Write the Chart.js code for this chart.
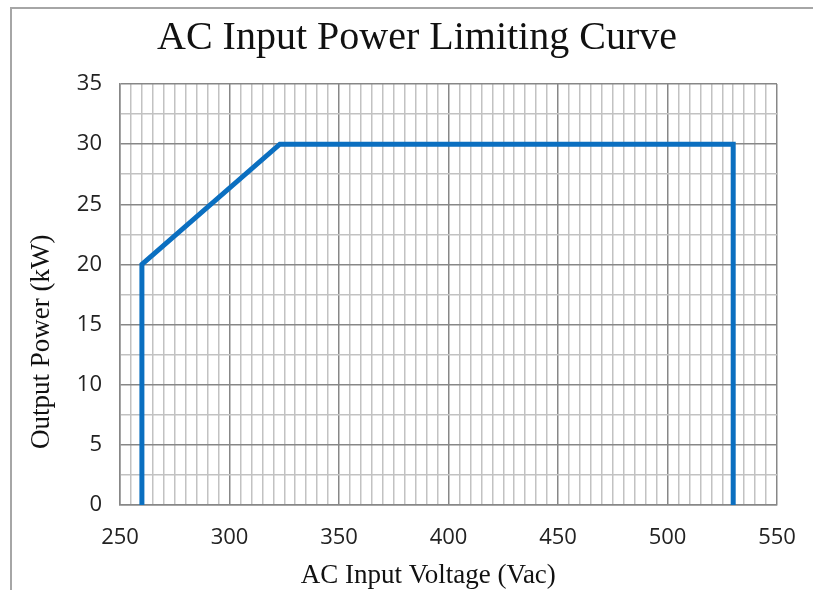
<!DOCTYPE html>
<html>
<head>
<meta charset="utf-8">
<script src="https://cdn.jsdelivr.net/npm/chart.js@4.4.1/dist/chart.umd.min.js"></script>
<style>
  body { margin: 0; background: #fff; }
  #wrap { position: relative; width: 813px; height: 590px; overflow: hidden; }
  #frame { position: absolute; left: 10px; top: 7px; width: 900px; height: 700px; border: 2px solid #a6a6a6; }
  canvas { position: absolute; left: 0; top: 0; }
</style>
</head>
<body>
<div id="wrap">
  <div id="frame"></div>
  <canvas id="curveChart" width="813" height="590"></canvas>
</div>
<script>
// curve data
const voltage = [260, 260, 323, 530, 530];
const power = [0, 20, 30, 30, 0];
const xTicks = [250, 300, 350, 400, 450, 500, 550];
const yTicks = [0, 5, 10, 15, 20, 25, 30, 35];

const points = voltage.map((v, i) => ({ x: v, y: power[i] }));
const tickFont = { family: 'Open Sans', size: 22 };

// the plot box sits at 120..777 px in the reference
const plotLeft = 120, plotRight = 777;

const ctx = document.getElementById('curveChart').getContext('2d');
new Chart(ctx, {
    type: 'scatter',
    data: {
        datasets: [{
            data: points,
            showLine: true,
            borderColor: '#0b6fc0',
            borderWidth: 5,
            pointRadius: 0,
            borderJoinStyle: 'miter',
            fill: false
        }]
    },
    options: {
        responsive: false,
        animation: false,
        layout: { padding: { left: 57, right: 813 - plotRight, top: 0, bottom: 0 } },
        plugins: {
            legend: { display: false },
            tooltip: { enabled: false },
            title: {
                display: true,
                text: 'AC Input Power Limiting Curve',
                color: '#111',
                font: { family: 'Liberation Serif', size: 40, weight: 'normal' },
                padding: { top: 14, bottom: 22 }
            }
        },
        scales: {
            x: {
                type: 'linear',
                min: xTicks[0], max: xTicks[xTicks.length - 1],
                afterFit: s => { s.height = 85; s.paddingRight = 0; },
                ticks: {
                    stepSize: 5, autoSkip: false, maxRotation: 0, padding: 20,
                    color: '#222', font: tickFont,
                    callback: v => xTicks.includes(v) ? String(v) : ''
                },
                grid: {
                    drawTicks: false,
                    lineWidth: 1.5,
                    color: c => (c.tick && c.tick.value % 50 === 0) ? '#878787' : '#c2c2c2'
                },
                border: { color: '#878787', width: 1.5 },
                title: {
                    display: true, text: 'AC Input Voltage (Vac)      ', color: '#111',
                    font: { family: 'Liberation Serif', size: 27 },
                    padding: { top: 0, bottom: -2 }
                }
            },
            y: {
                type: 'linear',
                min: yTicks[0], max: yTicks[yTicks.length - 1],
                afterFit: s => { s.width = plotLeft - 57; },
                ticks: {
                    stepSize: 2.5, autoSkip: false, padding: 18,
                    color: '#222', font: tickFont,
                    callback: v => yTicks.includes(v) ? String(v) : ''
                },
                grid: {
                    drawTicks: false,
                    lineWidth: 1.5,
                    color: c => (c.tick && c.tick.value % 5 === 0) ? '#878787' : '#c2c2c2'
                },
                border: { color: '#878787', width: 1.5 },
                title: {
                    display: true, text: 'Output Power (kW)              ', color: '#111',
                    font: { family: 'Liberation Serif', size: 27 },
                    padding: { top: -31, bottom: 0 }
                }
            }
        }
    }
});
</script>
</body>
</html>
